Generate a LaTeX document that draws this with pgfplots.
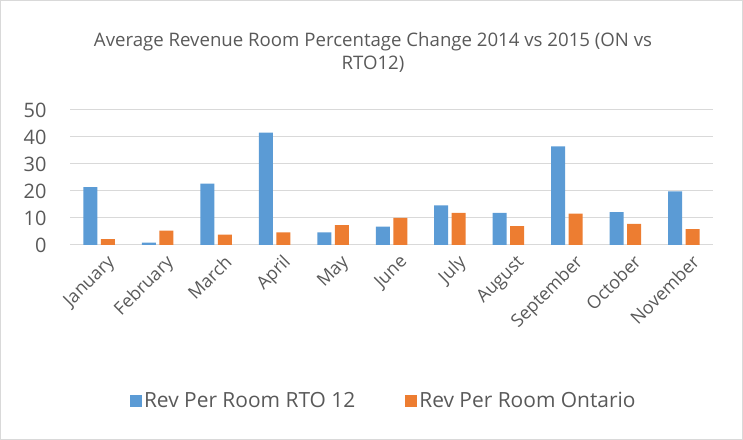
\documentclass[border=0pt]{standalone}
\usepackage{pgfplots}
\pgfplotsset{compat=1.18}
\usepackage{fontspec}
\setmainfont{Open Sans}
\definecolor{cblue}{HTML}{5B9BD5}
\definecolor{corange}{HTML}{ED7D31}
\definecolor{ctext}{HTML}{595959}
\definecolor{cgrid}{HTML}{D9D9D9}
\begin{document}
\begin{tikzpicture}[x=1bp,y=1bp]
\path[use as bounding box] (0,0) rectangle (743,440);
\draw[color=cgrid, line width=1bp] (0.5,0.5) rectangle (742.5,439.5);
\node[align=center, text=ctext, font=\fontsize{18.7}{23}\selectfont] at (373,388) {Average Revenue Room Percentage Change 2014 vs 2015 (ON vs\\RTO12)};
\begin{axis}[
  at={(70bp,195bp)}, anchor=south west,
  width=643bp, height=135bp, scale only axis,
  ybar, bar width=14bp,
  xmin=-0.5, xmax=10.5, ymin=0, ymax=50,
  ytick={0,10,20,30,40,50},
  xtick={0,...,10},
  xticklabels={January,February,March,April,May,June,July,August,September,October,November},
  x tick label style={rotate=45, anchor=north east, font=\fontsize{18}{21}\selectfont, text=ctext, inner sep=1pt, yshift=-10bp},
  y tick label style={font=\fontsize{20}{24}\selectfont, text=ctext, xshift=-20bp},
  /pgf/number format/assume math mode=true,
  ymajorgrids, grid style={color=cgrid, line width=1bp},
  axis line style={draw=none},
  major tick length=0pt,
  legend style={at={(0.488,-1.156)}, anchor=center, draw=none, legend columns=2,
    font=\fontsize{21}{24}\selectfont, text=ctext,
    /tikz/every even column/.append style={column sep=48bp}},
  legend image code/.code={\fill[#1] (-2bp,-6bp) rectangle (10bp,6bp);},
]
\addplot[fill=cblue, draw=none, bar shift=-8.75bp] coordinates {
(0,21.4) (1,0.9) (2,22.7) (3,41.6) (4,4.7) (5,6.8) (6,14.7) (7,11.9) (8,36.5) (9,12.2) (10,19.9)};
\addplot[fill=corange, draw=none, bar shift=8.75bp] coordinates {
(0,2.2) (1,5.3) (2,3.8) (3,4.7) (4,7.4) (5,10.0) (6,11.9) (7,7.0) (8,11.6) (9,7.8) (10,5.9)};
\legend{Rev Per Room RTO 12, Rev Per Room Ontario}
\end{axis}
\end{tikzpicture}
\end{document}
